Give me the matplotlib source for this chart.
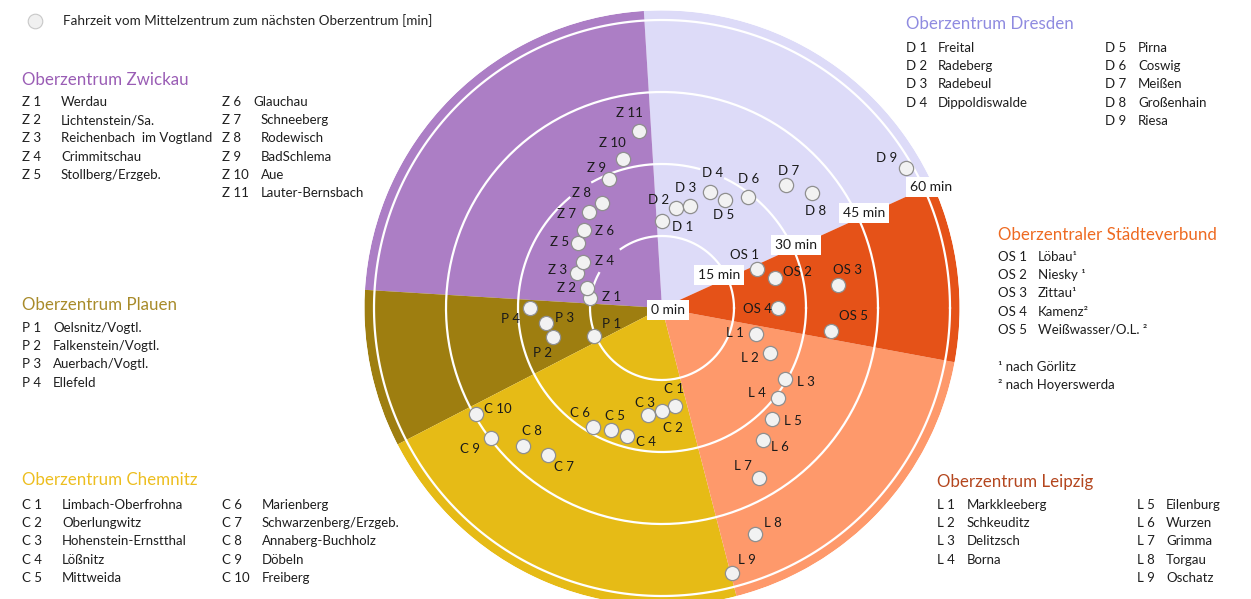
import numpy as np
import matplotlib
matplotlib.use("Agg")
import matplotlib.pyplot as plt

plt.rcParams['font.family'] = ['Lato', 'DejaVu Sans']

# Fahrzeit vom Mittelzentrum zum nächsten Oberzentrum [min]
# Reihenfolge = Anordnung im Kreis (im Uhrzeigersinn ab D 1)
d_codes = ["D 1", "D 2", "D 3", "D 4", "D 5", "D 6", "D 7", "D 8", "D 9"]
d_names = ["Freital", "Radeberg", "Radebeul", "Dippoldiswalde", "Pirna",
           "Coswig", "Meißen", "Großenhain", "Riesa"]
d_min = [18.1, 21.1, 22.1, 26.1, 26.1, 29.2, 36.4, 39.4, 58.6]

os_codes = ["OS 1", "OS 2", "OS 3", "OS 4", "OS 5"]
os_names = ["Löbau¹", "Niesky ¹", "Zittau¹", "Kamenz²", "Weißwasser/O.L. ²"]
os_min = [21.3, 24.3, 37.0, 24.2, 35.5]

l_codes = ["L 1", "L 2", "L 3", "L 4", "L 5", "L 6", "L 7", "L 8", "L 9"]
l_names = ["Markkleeberg", "Schkeuditz", "Delitzsch", "Borna", "Eilenburg",
           "Wurzen", "Grimma", "Torgau", "Oschatz"]
l_min = [20.3, 24.3, 29.6, 30.5, 32.6, 34.7, 40.7, 51.0, 57.1]

c_codes = ["C 1", "C 2", "C 3", "C 4", "C 5", "C 6", "C 7", "C 8", "C 9", "C 10"]
c_names = ["Limbach-Oberfrohna", "Oberlungwitz", "Hohenstein-Ernstthal", "Lößnitz",
           "Mittweida", "Marienberg", "Schwarzenberg/Erzgeb.", "Annaberg-Buchholz",
           "Döbeln", "Freiberg"]
c_min = [20.6, 21.5, 22.5, 27.6, 27.6, 28.6, 38.8, 40.7, 44.7, 44.6]

p_codes = ["P 1", "P 2", "P 3", "P 4"]
p_names = ["Oelsnitz/Vogtl.", "Falkenstein/Vogtl.", "Auerbach/Vogtl.", "Ellefeld"]
p_min = [15.4, 23.4, 24.4, 27.4]

z_codes = ["Z 1", "Z 2", "Z 3", "Z 4", "Z 5", "Z 6", "Z 7", "Z 8", "Z 9", "Z 10", "Z 11"]
z_names = ["Werdau", "Lichtenstein/Sa.", "Reichenbach  im Vogtland", "Crimmitschau",
           "Stollberg/Erzgeb.", "Glauchau", "Schneeberg", "Rodewisch", "BadSchlema",
           "Aue", "Lauter-Bernsbach"]
z_min = [15.1, 16.2, 19.1, 19.1, 22.1, 23.0, 25.2, 25.1, 29.0, 32.1, 37.2]

rings = [15, 30, 45, 60]

# Sektoren (Grad, gegen Uhrzeigersinn ab Osten), Farben
sectors = [
    ("Dresden", 24.5, 93.5, "#DDDBF8"),
    ("Zwickau", 93.5, 176.5, "#AC7EC5"),
    ("Plauen", 176.5, 207.3, "#9E7E10"),
    ("Chemnitz", 207.3, 284.5, "#E6BB16"),
    ("Leipzig", 284.5, 349.5, "#FE996B"),
    ("OS", 349.5, 384.5, "#E55218"),
]

# Beschriftungsversatz der Punkte in Pixeln (x rechts, y unten)
label_off = {
    "D 1": (20, 6), "D 2": (-17, -8), "D 3": (-4, -18), "D 4": (2, -19), "D 5": (-1, 15),
    "D 6": (1, -18), "D 7": (3, -14), "D 8": (3, 18), "D 9": (-19, -10),
    "OS 1": (-12, -14), "OS 2": (23, -6), "OS 3": (9, -15), "OS 4": (-21, 1), "OS 5": (23, -15),
    "L 1": (-21, -1), "L 2": (-20, 5), "L 3": (21, 3), "L 4": (-21, -5), "L 5": (21, 2),
    "L 6": (17, 7), "L 7": (-16, -12), "L 8": (18, -11), "L 9": (15, -13),
    "C 1": (-1, -17), "C 2": (11, 17), "C 3": (-3, -12), "C 4": (19, 6), "C 5": (4, -14),
    "C 6": (-13, -14), "C 7": (16, 12), "C 8": (9, -15), "C 9": (-21, 11), "C 10": (22, -5),
    "P 1": (18, -12), "P 2": (-11, 16), "P 3": (19, -5), "P 4": (-20, 11),
    "Z 1": (21, -1), "Z 2": (-20, 0), "Z 3": (-20, -3), "Z 4": (22, -1), "Z 5": (-19, -1),
    "Z 6": (20, 1), "Z 7": (-22, 2), "Z 8": (-21, -10), "Z 9": (-13, -11), "Z 10": (-10, -16),
    "Z 11": (-10, -18),
}

W, H = 1251, 599
cx, cy, R = 662, 308, 297.6
rmax = 62.0

fig = plt.figure(figsize=(W / 100, H / 100), dpi=100)
ax = fig.add_axes([(cx - R) / W, (H - cy - R) / H, 2 * R / W, 2 * R / H], projection='polar')
ax.set_ylim(0, rmax)
ax.set_axis_off()

for name, a0, a1, col in sectors:
    ax.bar(np.deg2rad(a0), rmax, width=np.deg2rad(a1 - a0), bottom=0, align='edge',
           color=col, linewidth=0, zorder=1)

# Ringe mit kleinen Lücken wie im Original
ring_gaps = {15: [(125, 151)], 30: [(64, 75), (119, 130)], 45: [], 60: []}
for t in rings:
    edges = [0] + [v for g in ring_gaps[t] for v in g] + [360]
    for a0, a1 in zip(edges[::2], edges[1::2]):
        th = np.deg2rad(np.linspace(a0, a1, 300))
        ax.plot(th, np.full_like(th, t), color="white", lw=1.6, zorder=2)

codes = d_codes + os_codes + l_codes + c_codes + p_codes + z_codes
minutes = d_min + os_min + l_min + c_min + p_min + z_min
theta = np.deg2rad(89.8 - 7.5 * np.arange(len(codes)))

ax.scatter(theta, minutes, s=105, facecolor="#F2F2F2", edgecolor="#8F8F8F",
           linewidth=0.9, zorder=5)
for code, th, m in zip(codes, theta, minutes):
    dx, dy = label_off[code]
    ax.annotate(code, (th, m), xytext=(dx, -dy), textcoords="offset pixels",
                ha="center", va="center", fontsize=9.5, color="#1A1A1A", zorder=6)

# Ringbeschriftungen
box = dict(boxstyle="square,pad=0.3", facecolor="white", edgecolor="none")
ax.annotate("0 min", (0, 0), xytext=(6, -2), textcoords="offset pixels", ha="center",
            va="center", fontsize=10, color="#1A1A1A", bbox=box, zorder=7)
ring_lab_pos = {15: (30.1, -1.3), 30: (25.2, 0.8), 45: (25.2, 1.5), 60: (24.2, 1.5)}
for t in rings:
    ang, dr = ring_lab_pos[t]
    ax.text(np.deg2rad(ang), t + dr, f"{t} min", ha="center", va="center", fontsize=10,
            color="#1A1A1A", bbox=box, zorder=7)

# Legenden (Pixelkoordinaten)
lg = fig.add_axes([0, 0, 1, 1])
lg.set_xlim(0, W)
lg.set_ylim(H, 0)
lg.axis("off")

lg.scatter([35], [21], s=110, facecolor="#F0F0F0", edgecolor="#C8C8C8", linewidth=0.8)
lg.text(63, 21, "Fahrzeit vom Mittelzentrum zum nächsten Oberzentrum [min]", fontsize=9.7,
        va="center", color="#222222")

tsize = 12.2
isize = 9.5
ink = "#1E1E1E"


def block(title, tcol, x, ty, cols):
    lg.text(x, ty, title, fontsize=tsize, color=tcol, va="center")
    for cx0, nx, y0, cds, nms in cols:
        for i, (c, n) in enumerate(zip(cds, nms)):
            y = y0 + i * 18.2
            lg.text(cx0, y, c, fontsize=isize, color=ink, va="center")
            xx = nx[i] if isinstance(nx, list) else nx
            lg.text(xx, y, n, fontsize=isize, color=ink, va="center")


block("Oberzentrum Zwickau", "#9A5DB5", 22, 80,
      [(22, 61, 102, z_codes[:5], z_names[:5]),
       (222, [253, 261, 261, 261, 261, 261], 102, z_codes[5:], z_names[5:])])
block("Oberzentrum Dresden", "#8F8BE0", 906, 24,
      [(906, 938, 48, d_codes[:4], d_names[:4]),
       (1105, 1138, 48, d_codes[4:], d_names[4:])])
block("Oberzentraler Städteverbund", "#EE6A21", 998, 235,
      [(998, 1038, 257, os_codes, os_names)])
lg.text(998, 367, "¹ nach Görlitz", fontsize=isize, color=ink, va="center")
lg.text(998, 385, "² nach Hoyerswerda", fontsize=isize, color=ink, va="center")
block("Oberzentrum Plauen", "#A88B2A", 22, 305,
      [(22, 53, 328, p_codes, p_names)])
block("Oberzentrum Chemnitz", "#EDBE1F", 22, 480,
      [(22, 62, 505, c_codes[:5], c_names[:5]),
       (222, 262, 505, c_codes[5:], c_names[5:])])
block("Oberzentrum Leipzig", "#B4461E", 937, 482,
      [(937, 967, 505, l_codes[:4], l_names[:4]),
       (1137, 1166, 505, l_codes[4:], l_names[4:])])

fig.savefig("out.png", dpi=100)
